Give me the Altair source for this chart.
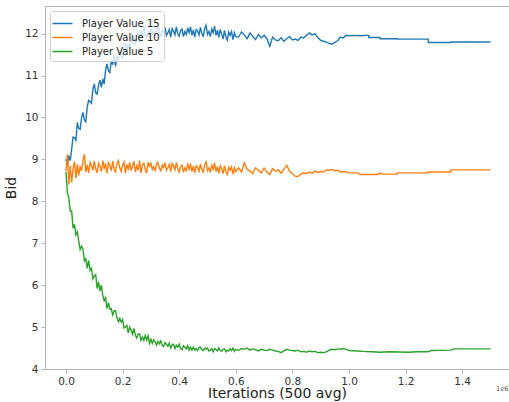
import altair as alt
import pandas as pd

SERIES = ["Player Value 15", "Player Value 10", "Player Value 5"]
COLORS = ["#1f77b4", "#ff7f0e", "#2ca02c"]

X_TICKS = [0.0, 0.2, 0.4, 0.6, 0.8, 1.0, 1.2, 1.4]
Y_TICKS = [4, 5, 6, 7, 8, 9, 10, 11, 12]

# x positions (in millions of iterations)
X_DENSE = [round(i * 0.005, 3) for i in range(121)]      # 0.000 .. 0.600
X_MID = [round(0.61 + i * 0.01, 2) for i in range(40)]   # 0.61 .. 1.00

BLUE_DENSE = [
    9.01, 8.84, 9.09, 8.97, 9.25, 9.53, 9.52, 9.46, 9.88, 9.74,
    9.72, 9.99, 10.12, 9.94, 9.90, 10.25, 10.41, 10.38, 10.34, 10.67,
    10.80, 10.59, 10.56, 10.77, 10.89, 10.72, 10.92, 10.80, 11.14, 11.28,
    11.11, 11.07, 11.36, 11.26, 11.52, 11.22, 11.46, 11.35, 11.61, 11.50,
    11.39, 11.69, 11.79, 11.59, 11.77, 11.62, 11.95, 11.76, 11.93, 11.74,
    11.92, 12.07, 11.79, 12.08, 11.92, 12.18, 11.97, 11.91, 12.08, 11.90,
    12.14, 11.98, 12.05, 11.93, 12.11, 12.16, 12.00, 11.94, 12.09, 12.03,
    12.15, 11.96, 12.02, 12.10, 11.92, 12.12, 12.06, 11.97, 12.16, 11.99,
    11.94, 12.08, 12.11, 11.93, 12.05, 11.98, 12.14, 12.02, 12.16, 11.96,
    12.09, 11.92, 12.10, 12.06, 11.97, 12.15, 12.00, 11.94, 12.12, 12.20,
    11.98, 12.05, 11.93, 12.11, 12.02, 12.18, 11.96, 12.08, 11.91, 12.10,
    11.99, 11.87, 12.08, 11.92, 11.85, 12.04, 11.96, 12.05, 11.86, 12.02,
    11.93,
]
BLUE_MID = [
    11.92, 12.04, 11.97, 11.88, 12.02, 11.93, 11.86, 11.98, 11.90, 11.96,
    11.88, 11.70, 11.92, 11.85, 11.83, 11.90, 11.82, 11.88, 11.93, 11.85,
    11.87, 11.84, 11.92, 11.90, 11.96, 12.02, 11.97, 12.00, 11.90, 11.84,
    11.82, 11.80, 11.77, 11.75, 11.79, 11.83, 11.92, 11.90, 11.96, 11.95,
]
BLUE_TAIL_X = [1.02, 1.04, 1.06, 1.07, 1.07, 1.11, 1.11, 1.17, 1.17, 1.28, 1.28, 1.36, 1.36, 1.50]
BLUE_TAIL_Y = [11.96, 11.95, 11.96, 11.96, 11.91, 11.91, 11.88, 11.88, 11.87, 11.87, 11.79, 11.79, 11.80, 11.80]

ORANGE_DENSE = [
    8.72, 9.12, 8.40, 8.85, 8.45, 8.78, 8.95, 8.55, 8.88, 8.62,
    8.82, 8.73, 8.97, 9.12, 8.70, 8.87, 8.67, 8.93, 8.85, 8.74,
    8.96, 8.77, 8.68, 8.91, 8.84, 8.71, 8.97, 8.79, 8.88, 8.67,
    8.94, 8.85, 8.73, 8.96, 8.76, 8.70, 8.90, 8.97, 8.80, 8.71,
    8.87, 8.94, 8.67, 8.88, 8.77, 8.93, 8.73, 8.84, 8.96, 8.70,
    8.85, 8.74, 8.97, 8.68, 8.87, 8.91, 8.76, 8.67, 8.93, 8.84,
    8.91, 8.76, 8.83, 8.72, 8.89, 8.93, 8.79, 8.73, 8.86, 8.81,
    8.92, 8.74, 8.80, 8.88, 8.71, 8.90, 8.84, 8.75, 8.93, 8.78,
    8.70, 8.83, 8.86, 8.69, 8.80, 8.73, 8.88, 8.77, 8.90, 8.71,
    8.84, 8.68, 8.85, 8.81, 8.72, 8.89, 8.75, 8.70, 8.87, 8.94,
    8.73, 8.80, 8.69, 8.86, 8.77, 8.92, 8.71, 8.83, 8.67, 8.85,
    8.77, 8.66, 8.85, 8.70, 8.64, 8.81, 8.74, 8.82, 8.65, 8.80,
    8.71,
]
ORANGE_MID = [
    8.80, 8.70, 8.92, 8.76, 8.72, 8.66, 8.80, 8.74, 8.68, 8.79,
    8.70, 8.64, 8.78, 8.72, 8.75, 8.67, 8.77, 8.86, 8.72, 8.66,
    8.60, 8.59, 8.65, 8.68, 8.66, 8.70, 8.67, 8.72, 8.69, 8.71,
    8.70, 8.75, 8.74, 8.76, 8.73, 8.74, 8.70, 8.71, 8.70, 8.68,
]
ORANGE_TAIL_X = [1.03, 1.04, 1.10, 1.11, 1.12, 1.17, 1.17, 1.28, 1.28, 1.36, 1.36, 1.50]
ORANGE_TAIL_Y = [8.68, 8.64, 8.64, 8.67, 8.65, 8.65, 8.68, 8.68, 8.70, 8.70, 8.75, 8.75]

GREEN_DENSE = [
    8.70, 8.19, 8.09, 7.77, 7.77, 7.36, 7.45, 7.20, 7.27, 7.05,
    6.85, 6.93, 6.86, 6.58, 6.63, 6.40, 6.59, 6.35, 6.40, 6.15,
    6.22, 6.25, 5.92, 6.08, 5.86, 6.00, 5.75, 5.63, 5.70, 5.44,
    5.58, 5.43, 5.44, 5.29, 5.39, 5.39, 5.22, 5.13, 5.21, 5.12,
    5.18, 4.98, 5.00, 5.04, 4.86, 5.00, 4.93, 4.83, 4.97, 4.81,
    4.74, 4.83, 4.84, 4.68, 4.76, 4.68, 4.80, 4.69, 4.79, 4.61,
    4.71, 4.61, 4.70, 4.65, 4.57, 4.66, 4.60, 4.67, 4.56, 4.54,
    4.63, 4.59, 4.54, 4.62, 4.50, 4.57, 4.59, 4.49, 4.57, 4.52,
    4.59, 4.48, 4.46, 4.56, 4.52, 4.48, 4.56, 4.45, 4.52, 4.45,
    4.52, 4.45, 4.49, 4.44, 4.51, 4.52, 4.46, 4.44, 4.50, 4.47,
    4.50, 4.43, 4.45, 4.49, 4.41, 4.49, 4.47, 4.43, 4.50, 4.44,
    4.42, 4.47, 4.48, 4.41, 4.45, 4.43, 4.49, 4.44, 4.50, 4.42,
    4.47,
]
GREEN_MID = [
    4.44, 4.49, 4.47, 4.50, 4.45, 4.48, 4.46, 4.43, 4.47, 4.45,
    4.44, 4.47, 4.45, 4.43, 4.42, 4.39, 4.43, 4.47, 4.45, 4.44,
    4.43, 4.45, 4.41, 4.42, 4.40, 4.43, 4.41, 4.42, 4.39, 4.40,
    4.39, 4.41, 4.45, 4.47, 4.46, 4.48, 4.47, 4.49, 4.47, 4.44,
]
GREEN_TAIL_X = [1.03, 1.05, 1.08, 1.11, 1.14, 1.21, 1.24, 1.28, 1.29, 1.36, 1.37, 1.50]
GREEN_TAIL_Y = [4.43, 4.42, 4.41, 4.40, 4.41, 4.40, 4.41, 4.41, 4.44, 4.45, 4.48, 4.48]

rows = []
for name, dense, mid, tx, ty in [
    (SERIES[0], BLUE_DENSE, BLUE_MID, BLUE_TAIL_X, BLUE_TAIL_Y),
    (SERIES[1], ORANGE_DENSE, ORANGE_MID, ORANGE_TAIL_X, ORANGE_TAIL_Y),
    (SERIES[2], GREEN_DENSE, GREEN_MID, GREEN_TAIL_X, GREEN_TAIL_Y),
]:
    xs = X_DENSE + X_MID + tx
    ys = dense + mid + ty
    for k, (xv, yv) in enumerate(zip(xs, ys)):
        rows.append({"series": name, "x": xv, "y": yv, "order": k})
df = pd.DataFrame(rows)

W, H = 464, 363
x_scale = alt.Scale(domain=[-0.0742, 1.5654], nice=False, zero=False)
y_scale = alt.Scale(domain=[4, 12.66], nice=False, zero=False)

lines = alt.Chart(df).mark_line(strokeWidth=1.4, clip=True).encode(
    x=alt.X("x:Q", scale=x_scale,
            axis=alt.Axis(title="Iterations (500 avg)", values=X_TICKS, format=".1f",
                          titlePadding=0)),
    y=alt.Y("y:Q", scale=y_scale,
            axis=alt.Axis(title="Bid", values=Y_TICKS, format="d", titlePadding=6)),
    color=alt.Color("series:N", scale=alt.Scale(domain=SERIES, range=COLORS),
                    legend=alt.Legend(title=None, orient="none", legendX=5, legendY=5,
                                      symbolType="M-1.33,0H1.33", symbolSize=225,
                                      symbolStrokeWidth=1.5, labelFontSize=10,
                                      labelFont="DejaVu Sans", labelColor="#222",
                                      fillColor="rgba(255,255,255,0.8)",
                                      strokeColor="#d0d0d0", padding=4,
                                      cornerRadius=3, rowPadding=0, labelOffset=11,
                                      zindex=1)),
    order="order:Q",
)

frame = alt.Chart(df).mark_point(opacity=0).encode(
    x=alt.X("x:Q", scale=x_scale,
            axis=alt.Axis(orient="top", labels=False, ticks=False, title=None,
                          domain=True)),
)

offset = alt.Chart(pd.DataFrame({"t": ["1e6"]})).mark_text(
    align="left", baseline="middle", fontSize=6.5, font="DejaVu Sans", color="#555"
).encode(x=alt.value(451), y=alt.value(383), text="t:N")

chart = alt.layer(lines, frame, offset).resolve_axis(x="independent").properties(
    width=W, height=H,
    autosize=alt.AutoSizeParams(type="none"),
    padding={"left": 45, "top": 6, "right": 0, "bottom": 33},
).configure_view(stroke=None).configure_axis(
    labelFont="DejaVu Sans", labelFontSize=10.5, labelColor="#333",
    domainColor="#b5b5b5", tickColor="#b5b5b5", tickSize=4, labelPadding=3,
    grid=False, titleFont="DejaVu Sans", titleFontSize=14,
    titleFontWeight="normal", titleColor="#222",
)

chart.save("out.html", embed_options={"renderer": "svg", "actions": False})
